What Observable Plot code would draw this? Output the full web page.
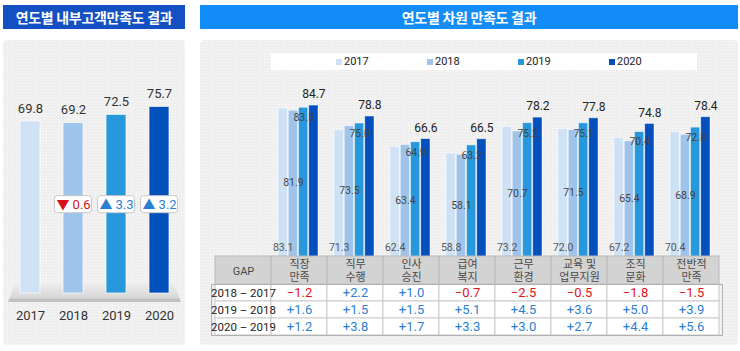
<!DOCTYPE html>
<html><head><meta charset="utf-8">
<script src="https://cdn.jsdelivr.net/npm/d3@7"></script>
<script src="https://cdn.jsdelivr.net/npm/@observablehq/plot@0.6"></script>
<style>
html,body{margin:0;padding:0;background:#fff;}
body{width:740px;height:351px;position:relative;overflow:hidden;font-family:Roboto,"Noto Sans CJK KR",sans-serif;}
.abs{position:absolute;}
.title{color:#fff;font-weight:bold;font-size:14px;display:flex;align-items:center;justify-content:center;font-family:"Noto Sans CJK KR",sans-serif;letter-spacing:-0.3px;}
.panel{background-color:#efefef;background-image:radial-gradient(#fbfbfb 0.7px,transparent 0.9px);background-size:3px 3px;border-radius:4px;}
.legend{background:#fff;}
.li{position:absolute;top:0;height:17px;display:flex;align-items:center;font-size:11px;color:#222;}
.sw{width:6px;height:6px;margin-right:2px;}
.platform{background:linear-gradient(#ececec,#d6d6d6 80%,#bdbdbd 82%,#c4c4c4);clip-path:polygon(4% 0,96% 0,100% 100%,0 100%);}
svg{position:absolute;overflow:visible;}
</style></head>
<body>
<div class="abs title" style="left:3px;top:5px;width:182px;height:24px;background:#1250c4;">연도별 내부고객만족도 결과</div>
<div class="abs title" style="left:200px;top:5px;width:538px;height:24px;background:#128cf8;">연도별 차원 만족도 결과</div>
<div class="abs panel" style="left:3px;top:40px;width:182px;height:305px;"></div>
<div class="abs panel" style="left:200px;top:40px;width:538px;height:305px;"></div>
<div class="abs platform" style="left:8px;top:284px;width:173px;height:18px;"></div>
<div class="abs legend" id="legend" style="left:271px;top:53px;width:426px;height:17px;"></div>
<div id="c1"></div><div id="c2"></div><div id="c3"></div><div id="c4"></div>
<script>
// ---- data ----
const years = ["2017", "2018", "2019", "2020"];
const overall = [69.8, 69.2, 72.5, 75.7];
const overallDelta = [null, -0.6, 3.3, 3.2];
const categories = ["직장\n만족", "직무\n수행", "인사\n승진", "급여\n복지", "근무\n환경", "교육 및\n업무지원", "조직\n문화", "전반적\n만족"];
const v2017 = [83.1, 71.3, 62.4, 58.8, 73.2, 72.0, 67.2, 70.4];
const v2018 = [81.9, 73.5, 63.4, 58.1, 70.7, 71.5, 65.4, 68.9];
const v2019 = [83.5, 75.0, 64.9, 63.2, 75.2, 75.1, 70.4, 72.8];
const v2020 = [84.7, 78.8, 66.6, 66.5, 78.2, 77.8, 74.8, 78.4];
const gapRows = ["2018 – 2017", "2019 – 2018", "2020 – 2019"];
const gap1 = [-1.2, 2.2, 1.0, -0.7, -2.5, -0.5, -1.8, -1.5];
const gap2 = [1.6, 1.5, 1.5, 5.1, 4.5, 3.6, 5.0, 3.9];
const gap3 = [1.2, 3.8, 1.7, 3.3, 3.0, 2.7, 4.4, 5.6];
const colors = ["#cfe1f4", "#9ec4ec", "#2898dc", "#0350bd"];

const FONT = 'Roboto,"Noto Sans CJK KR",sans-serif';
function place(el, left, top){ el.style.left = left + "px"; el.style.top = top + "px"; return el; }

// ---- legend ----
const leg = document.getElementById("legend");
years.forEach((y, i) => {
  const d = document.createElement("div");
  d.className = "li";
  d.style.left = (65 + i * 91) + "px";
  d.innerHTML = `<span class="sw" style="background:${colors[i]}"></span>${y}`;
  leg.appendChild(d);
});

// ---- left chart ----
const left = years.map((y, i) => ({year: y, v: overall[i], d: overallDelta[i], c: colors[i]}));
const p1 = Plot.plot({
  width: 182, height: 290,
  marginLeft: 3.45, marginRight: 1.95, marginTop: 6.6, marginBottom: 37,
  style: {background: "transparent", fontFamily: FONT},
  x: {domain: years, paddingInner: 0.54, paddingOuter: 0.3, axis: null},
  y: {domain: [0, 100], axis: null},
  marks: [
    Plot.barY(left, {x: "year", y: "v", fill: "c", stroke: "#ffffff", strokeOpacity: 0.7, strokeWidth: 1}),
    Plot.text(left, {x: "year", y: "v", text: d => d.v.toFixed(1), dy: -13, fontSize: 13, fill: "#333"}),
    Plot.text(left, {x: "year", y: 0, text: "year", dy: 22, fontSize: 13, fill: "#333"}),
    Plot.barY(left.filter(d => d.d != null), {x: "year", y1: 32.6, y2: 39.5, fill: "#fff", stroke: "#c8c8c8", rx: 3, insetLeft: -8.5, insetRight: -8.5}),
    Plot.text(left.filter(d => d.d != null), {x: "year", y: 36.1, text: d => (d.d < 0 ? "▼" : "▲") + " " + Math.abs(d.d).toFixed(1), fontSize: 13, fill: d => d.d < 0 ? "#d8101c" : "#2a7fd2"})
  ]
});
place(p1, 3, 40);
document.getElementById("c1").appendChild(p1);

// ---- right chart ----
const rows = categories.map((c, i) => ({cat: c, v: [v2017[i], v2018[i], v2019[i], v2020[i]]}));
const q = 56.9 * 0.72 / 4;
const marks2 = [];
years.forEach((y, k) => {
  marks2.push(Plot.barY(rows, {x: "cat", y: d => d.v[k], fill: colors[k], stroke: "#fff", strokeOpacity: 0.6, strokeWidth: 0.8, insetLeft: k * q, insetRight: (3 - k) * q}));
});
const dxs = [0, 1, 2, 3].map(k => (k - 1.5) * q);
marks2.push(Plot.text(rows, {x: "cat", y: 0, text: d => d.v[0].toFixed(1), dx: dxs[0], dy: -15, fontSize: 10.5, fill: "#555"}));
marks2.push(Plot.text(rows, {x: "cat", y: d => (d.v[1] + 3.8) / 2, text: d => d.v[1].toFixed(1), dx: dxs[1], fontSize: 10.5, fill: "#444"}));
marks2.push(Plot.text(rows, {x: "cat", y: d => d.v[2], text: d => d.v[2].toFixed(1), dx: dxs[2], dy: 10, fontSize: 10.5, fill: "#444"}));
marks2.push(Plot.text(rows, {x: "cat", y: d => d.v[3], text: d => d.v[3].toFixed(1), dx: dxs[3], dy: -11, fontSize: 12, fill: "#222"}));
const p2 = Plot.plot({
  width: 538, height: 187,
  marginLeft: 66.8, marginRight: 16, marginTop: 1.7, marginBottom: 0,
  style: {background: "transparent", fontFamily: FONT},
  x: {domain: categories, paddingInner: 0.28, paddingOuter: 0.14, axis: null},
  y: {domain: [0, 100], axis: null},
  marks: marks2
});
place(p2, 200, 75);
document.getElementById("c2").appendChild(p2);

// ---- table header ----
const cols = ["GAP", ...categories];
const p3 = Plot.plot({
  width: 538, height: 28,
  marginLeft: 11, marginRight: 16, marginTop: 0, marginBottom: 0,
  style: {background: "transparent", fontFamily: FONT},
  x: {domain: cols, padding: 0, axis: null},
  marks: [
    Plot.cell(cols, {x: d => d, fill: "#d3d3d3", stroke: "#b9b9b9"}),
    Plot.text(cols, {x: d => d, frameAnchor: "middle", text: d => d, fontSize: 11, fill: "#4a4a4a", lineHeight: 1.2})
  ]
});
place(p3, 200, 256);
document.getElementById("c3").appendChild(p3);

// ---- table body ----
const gaps = [gap1, gap2, gap3];
const body = [];
gapRows.forEach((r, j) => {
  body.push({col: "GAP", row: r, label: r, v: null});
  categories.forEach((c, i) => body.push({col: c, row: r, label: (gaps[j][i] < 0 ? "−" : "+") + Math.abs(gaps[j][i]).toFixed(1), v: gaps[j][i]}));
});
const p4 = Plot.plot({
  width: 538, height: 51,
  marginLeft: 11, marginRight: 16, marginTop: 0, marginBottom: 0,
  style: {background: "transparent", fontFamily: FONT},
  x: {domain: cols, padding: 0, axis: null},
  y: {domain: gapRows, padding: 0, axis: null},
  marks: [
    Plot.cell(body, {x: "col", y: "row", fill: "#fff", stroke: "#c9c9c9"}),
    Plot.frame({stroke: "#b0b0b0"}),
    Plot.text(body.filter(d => d.v == null), {x: "col", y: "row", text: "label", fontSize: 11.5, fill: "#222"}),
    Plot.text(body.filter(d => d.v != null), {x: "col", y: "row", text: "label", fontSize: 13, fill: d => d.v < 0 ? "#e0141c" : "#2a80d2"})
  ]
});
place(p4, 200, 284);
document.getElementById("c4").appendChild(p4);
</script>
</body></html>
